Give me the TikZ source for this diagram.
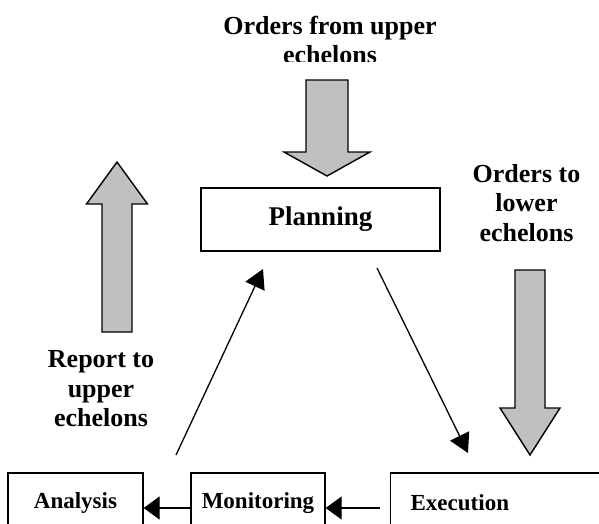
\documentclass[tikz,border=0pt]{standalone}
\usepackage{fontspec}
\setmainfont{Liberation Serif}
\usetikzlibrary{arrows.meta}
\definecolor{silver}{RGB}{192,192,192}
% centre x, tail y, base of head y, tip y, half shaft, half head
\newcommand{\blockarrow}[6]{%
	\filldraw[fill=silver, draw=black, line width=1.4pt, line join=miter] (#1-#5,#2) -- (#1-#5,#3) -- (#1-#6,#3) -- (#1,#4) -- (#1+#6,#3) -- (#1+#5,#3) -- (#1+#5,#2) -- cycle;}
\tikzset{
	bigfont/.style={font=\bfseries\fontsize{26}{29.5}\selectfont},
	box/.style={draw, font=\bfseries\fontsize{23}{27}\selectfont, line width=1.3pt, minimum height=60pt, inner sep=0pt},
	echelon/.style={bigfont, align=center, inner sep=0pt},
	link/.style={line width=1.3pt, -{Triangle[length=19pt,width=21pt]}},
	flow/.style={line width=1.3pt, -{Triangle[length=16pt,width=23pt]}}
}
\begin{document}
\begin{tikzpicture}[x=1pt, y=1pt]
		\useasboundingbox (0,0) rectangle (599,-523);
		\begin{scope}
			\clip (200,0) rectangle (460,-61);
			\node[echelon] (from) at (330,-40) {Orders from upper\\echelons};
		\end{scope}
		\node[echelon] (lower) at (526.5,-203) {Orders to\\lower\\echelons};
		\node[echelon] (report) at (101,-389) {Report to\\upper\\echelons};
		\blockarrow{327}{-80}{-152}{-176}{21}{43}
		\blockarrow{530}{-270}{-408}{-455}{15}{30}
		\blockarrow{117}{-332}{-204}{-162}{15}{30.5}
		\node[box, minimum width=239pt, minimum height=63pt, font=\bfseries\fontsize{27}{30}\selectfont] (planning) at (320.5,-219.5) {Planning};
		\node[box, minimum width=135pt] (analysis) at (75.5,-503) {Analysis};
		\node[box, minimum width=134pt] (monitoring) at (258,-503) {Monitoring};
		\node[box, anchor=west, text width=200pt, inner xsep=20pt, align=left] (execution) at (390,-503) {Execution};
		\coordinate (up1) at (176,-455);
		\coordinate (up2) at (263,-269);
		\coordinate (dn1) at (377,-268);
		\coordinate (dn2) at (468,-453);
		\coordinate (ex) at (380,-508);
		\draw[link] (up1) -- (up2);
		\draw[link] (dn1) -- (dn2);
		\draw[flow] (ex) -- ([yshift=-5pt]monitoring.east);
		\draw[flow] ([yshift=-5pt]monitoring.west) -- ([yshift=-5pt]analysis.east);
	\end{tikzpicture}
\end{document}
